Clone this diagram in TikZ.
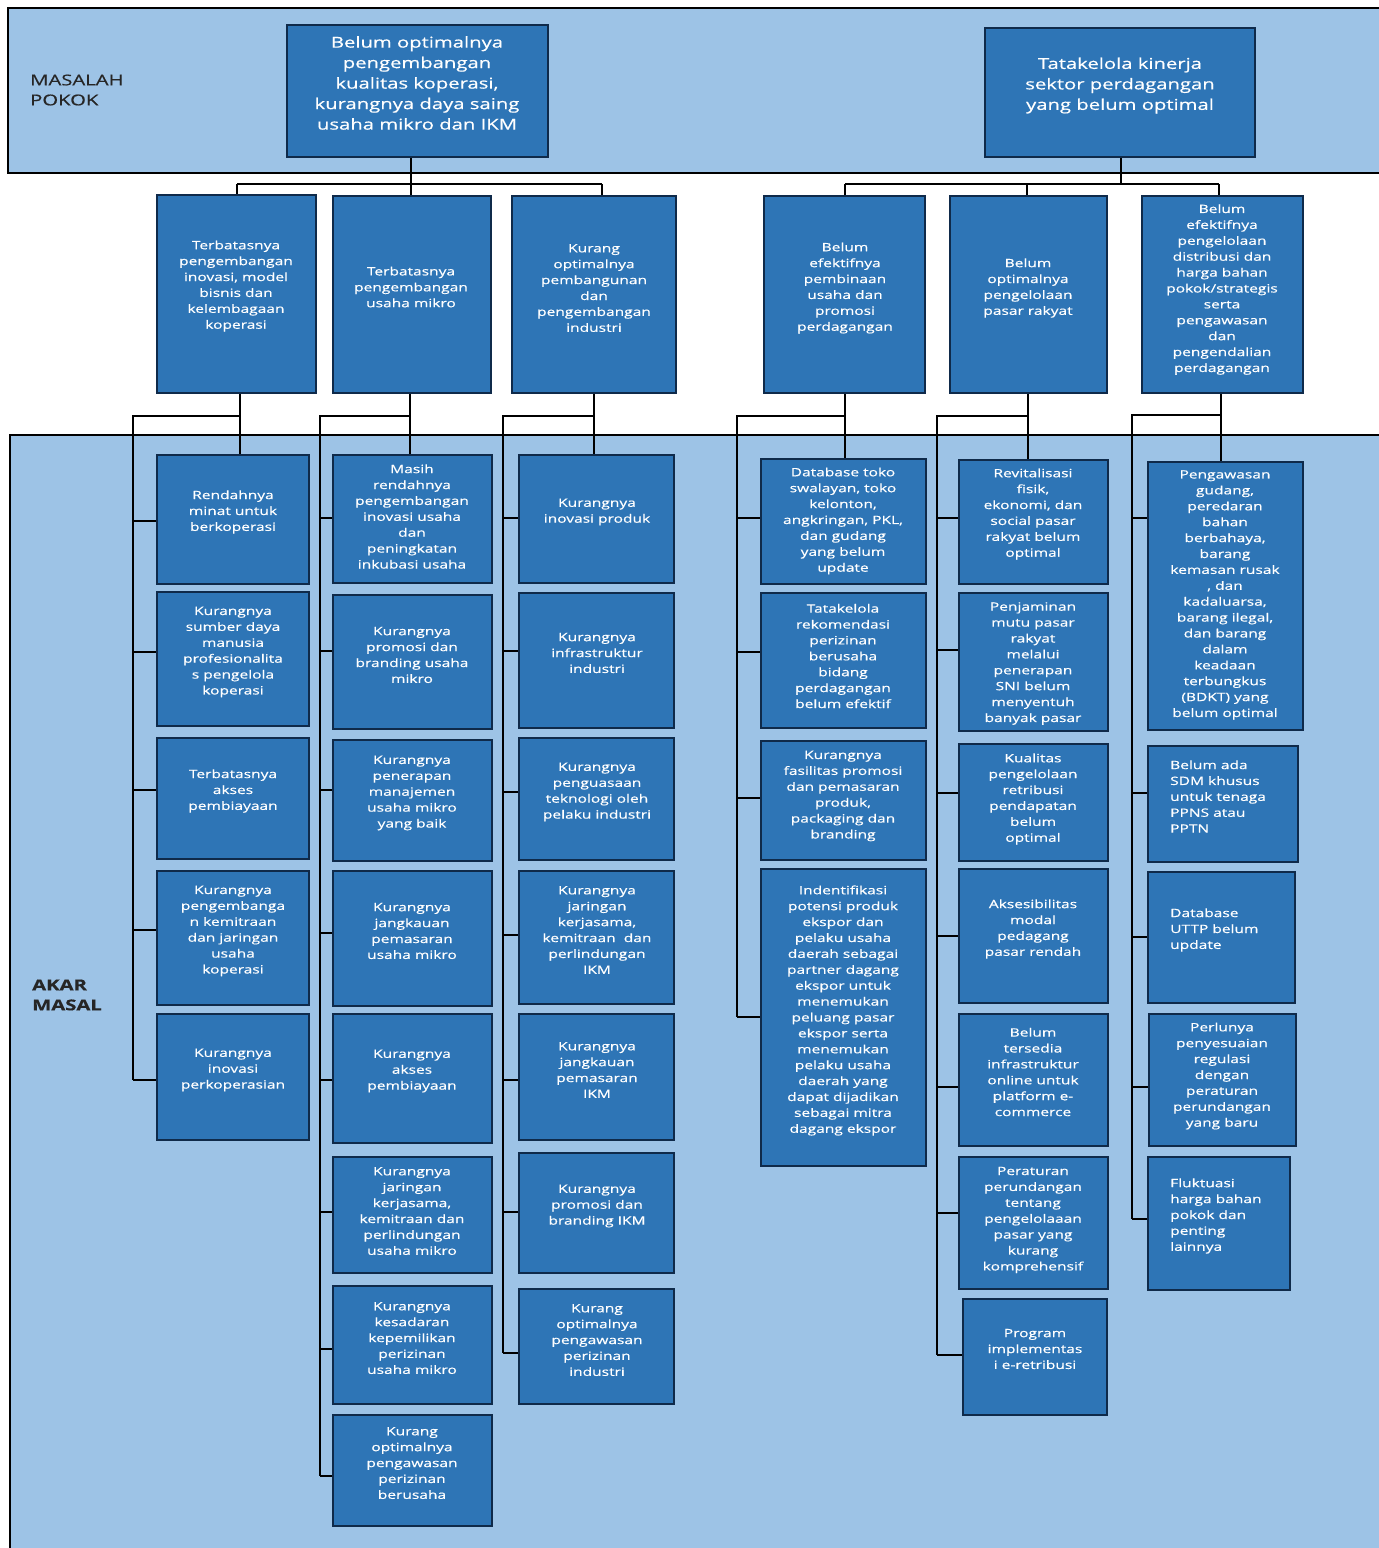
\documentclass[tikz,border=0pt]{standalone}
\usepackage{fontspec}
\setmainfont{Open Sans}
\newfontfamily\boxfont{Open Sans}[FakeStretch=1.35,FakeBold=0.5]
\definecolor{band}{HTML}{9DC3E6}
\definecolor{boxfill}{HTML}{2E75B6}
\definecolor{boxedge}{HTML}{0F2A4A}
\newcommand\bx[5]{\node[box, minimum width={(#4)-(#2)}, minimum height={(#5)-(#3)}] (#1) at ({((#2)+(#4))/2},{((#3)+(#5))/2}) {};}
\newcommand\tx[4]{\node[txt] (#1t) at (#2,#3) {#4};}
\newcommand\txl[4]{\node[txt, align=left, anchor=west] (#1t) at (#2,#3) {#4};}
\newcommand\stub[3]{\coordinate (tmp) at (#1,#2); \draw[conn] (tmp) -- (#3.west |- tmp);}
\begin{document}
\begin{tikzpicture}[x=1pt,y=-1pt,
 box/.style={draw=boxedge, fill=boxfill, line width=2.2pt, inner sep=0pt, rectangle},
 txt/.style={text=white, align=center, inner sep=0pt, font=\boxfont\fontsize{11.5}{15.9}\selectfont},
 bigtxt/.style={text=white, align=center, inner sep=0pt, font=\boxfont\fontsize{15}{20.5}\selectfont},
 lbl/.style={text=black!85, align=left, inner sep=0pt, anchor=west, font=\boxfont\fontsize{15}{20}\selectfont},
 conn/.style={draw=black, line width=2pt},
 bandst/.style={fill=band, draw=black, line width=1.8pt}]
\useasboundingbox (0,0) rectangle (1379,1548);
\clip (0,0) rectangle (1379,1548);
\fill[white] (0,0) rectangle (1379,1548);

% bands
\path[bandst] (8,8) rectangle (1395,173);
\path[bandst] (10,435) rectangle (1395,1565);
\node[lbl] (lmp) at (30,90) {MASALAH\\POKOK};
\node[lbl, font=\boxfont\bfseries\fontsize{15}{20}\selectfont] (lam) at (32,995) {AKAR\\MASAL};

% top boxes
\bx{T1}{287}{25}{548}{157}
\bx{T2}{985}{28}{1255}{157}
\node[bigtxt] (T1t) at (417,83) {Belum optimalnya\\pengembangan\\kualitas koperasi,\\kurangnya daya saing\\usaha mikro dan IKM};
\node[bigtxt] (T2t) at (1120,85.5) {Tatakelola kinerja\\sektor perdagangan\\yang belum optimal};

% level 2 connectors
\coordinate (h1l) at (237,184); \coordinate (h1m) at (411,184); \coordinate (h1r) at (602,184);
\coordinate (h2l) at (845,184); \coordinate (h2m) at (1027,184); \coordinate (h2r) at (1219,184);
\coordinate (h2c) at (1121,184);
\draw[conn] (T1.south -| h1m) -- (h1m);
\draw[conn] (h1l) -- (h1r);
\draw[conn] (T2.south -| h2c) -- (h2c);
\draw[conn] (h2l) -- (h2r);

% level 2 boxes
\bx{A}{157}{195}{316}{393}
\bx{B}{333}{196}{491}{393}
\bx{C}{512}{196}{676}{393}
\bx{D}{764}{196}{925}{393}
\bx{E}{950}{196}{1107}{393}
\bx{F}{1142}{196}{1303}{393}
\draw[conn] (h1l) -- (A.north -| h1l);
\draw[conn] (h1m) -- (B.north -| h1m);
\draw[conn] (h1r) -- (C.north -| h1r);
\draw[conn] (h2l) -- (D.north -| h2l);
\draw[conn] (h2m) -- (E.north -| h2m);
\draw[conn] (h2r) -- (F.north -| h2r);

\tx{A}{236}{286}{Terbatasnya\\pengembangan\\inovasi, model\\bisnis dan\\kelembagaan\\koperasi}
\tx{B}{411}{287}{Terbatasnya\\pengembangan\\usaha mikro}
\tx{C}{594}{288}{Kurang\\optimalnya\\pembangunan\\dan\\pengembangan\\industri}
\tx{D}{845}{288}{Belum\\efektifnya\\pembinaan\\usaha dan\\promosi\\perdagangan}
\tx{E}{1028}{288}{Belum\\optimalnya\\pengelolaan\\pasar rakyat}
\tx{F}{1222}{289.5}{Belum\\efektifnya\\pengelolaan\\distribusi dan\\harga bahan\\pokok/strategis\\serta\\pengawasan\\dan\\pengendalian\\perdagangan}

% level 3 boxes
\bx{A1}{157}{455}{309}{584}
\bx{A2}{157}{592}{309}{726}
\bx{A3}{157}{738}{309}{859}
\bx{A4}{157}{871}{309}{1005}
\bx{A5}{157}{1014}{309}{1140}

\bx{B1}{333}{455}{492}{583}
\bx{B2}{333}{595}{492}{729}
\bx{B3}{333}{740}{492}{861}
\bx{B4}{333}{871}{492}{1006}
\bx{B5}{333}{1014}{492}{1143}
\bx{B6}{333}{1157}{492}{1273}
\bx{B7}{333}{1286}{492}{1404}
\bx{B8}{333}{1415}{492}{1526}

\bx{C1}{519}{455}{674}{583}
\bx{C2}{519}{593}{674}{728}
\bx{C3}{519}{738}{674}{860}
\bx{C4}{519}{871}{674}{1004}
\bx{C5}{519}{1014}{674}{1140}
\bx{C6}{519}{1153}{674}{1273}
\bx{C7}{519}{1289}{674}{1404}

\bx{D1}{761}{459}{926}{584}
\bx{D2}{761}{593}{926}{728}
\bx{D3}{761}{741}{926}{860}
\bx{D4}{761}{869}{926}{1166}

\bx{E1}{959}{460}{1108}{584}
\bx{E2}{959}{593}{1108}{731}
\bx{E3}{959}{744}{1108}{861}
\bx{E4}{959}{869}{1108}{1003}
\bx{E5}{959}{1014}{1108}{1146}
\bx{E6}{959}{1157}{1108}{1289}
\bx{E7}{963}{1299}{1107}{1415}

\bx{F1}{1148}{462}{1303}{730}
\bx{F2}{1148}{746}{1298}{862}
\bx{F3}{1148}{872}{1295}{1003}
\bx{F4}{1149}{1014}{1296}{1146}
\bx{F5}{1148}{1157}{1290}{1290}

% level 3 connectors: stems, spines, stubs
\coordinate (xA) at (240,0); \coordinate (xB) at (410,0); \coordinate (xC) at (594,0);
\coordinate (xD) at (845,0); \coordinate (xE) at (1028,0); \coordinate (xF) at (1221,0);
\draw[conn] (A.south -| xA) -- (A1.north -| xA);
\draw[conn] (B.south -| xB) -- (B1.north -| xB);
\draw[conn] (C.south -| xC) -- (C1.north -| xC);
\draw[conn] (D.south -| xD) -- (D1.north -| xD);
\draw[conn] (E.south -| xE) -- (E1.north -| xE);
\draw[conn] (F.south -| xF) -- (F1.north -| xF);

\draw[conn] (240,416) -- (133,416) -- (133,1080);
\draw[conn] (410,416) -- (320,416) -- (320,1476);
\draw[conn] (594,416) -- (503,416) -- (503,1353);
\draw[conn] (845,416) -- (737,416) -- (737,1017);
\draw[conn] (1028,416) -- (937,416) -- (937,1355);
\draw[conn] (1221,415) -- (1132,415) -- (1132,1219);

\stub{133}{521}{A1} \stub{133}{652}{A2} \stub{133}{790}{A3} \stub{133}{930}{A4} \stub{133}{1080}{A5}
\stub{320}{518}{B1} \stub{320}{651}{B2} \stub{320}{790}{B3} \stub{320}{933}{B4} \stub{320}{1080}{B5} \stub{320}{1212}{B6} \stub{320}{1349}{B7} \stub{320}{1476}{B8}
\stub{503}{518}{C1} \stub{503}{651}{C2} \stub{503}{792}{C3} \stub{503}{935}{C4} \stub{503}{1080}{C5} \stub{503}{1212}{C6} \stub{503}{1353}{C7}
\stub{737}{518}{D1} \stub{737}{652}{D2} \stub{737}{798}{D3} \stub{737}{1017}{D4}
\stub{937}{518}{E1} \stub{937}{650}{E2} \stub{937}{793}{E3} \stub{937}{936}{E4} \stub{937}{1087}{E5} \stub{937}{1213}{E6} \stub{937}{1355}{E7}
\stub{1132}{518}{F1} \stub{1132}{793}{F2} \stub{1132}{937}{F3} \stub{1132}{1087}{F4} \stub{1132}{1219}{F5}

% level 3 texts
\tx{A1}{233}{512}{Rendahnya\\minat untuk\\berkoperasi}
\tx{A2}{233}{652}{Kurangnya\\sumber daya\\manusia\\profesionalita\\s pengelola\\koperasi}
\tx{A3}{233}{791}{Terbatasnya\\akses\\pembiayaan}
\tx{A4}{233}{931}{Kurangnya\\pengembanga\\n kemitraan\\dan jaringan\\usaha\\koperasi}
\tx{A5}{233}{1070}{Kurangnya\\inovasi\\perkoperasian}

\tx{B1}{412}{516.5}{Masih\\rendahnya\\pengembangan\\inovasi usaha\\dan\\peningkatan\\inkubasi usaha}
\tx{B2}{412}{655}{Kurangnya\\promosi dan\\branding usaha\\mikro}
\tx{B3}{412}{793}{Kurangnya\\penerapan\\manajemen\\usaha mikro\\yang baik}
\tx{B4}{412}{931}{Kurangnya\\jangkauan\\pemasaran\\usaha mikro}
\tx{B5}{412}{1071}{Kurangnya\\akses\\pembiayaan}
\tx{B6}{412}{1211}{Kurangnya\\jaringan\\kerjasama,\\kemitraan dan\\perlindungan\\usaha mikro}
\tx{B7}{412}{1338}{Kurangnya\\kesadaran\\kepemilikan\\perizinan\\usaha mikro}
\tx{B8}{412}{1463}{Kurang\\optimalnya\\pengawasan\\perizinan\\berusaha}

\tx{C1}{597}{512}{Kurangnya\\inovasi produk}
\tx{C2}{597}{653}{Kurangnya\\infrastruktur\\industri}
\tx{C3}{597}{792}{Kurangnya\\penguasaan\\teknologi oleh\\pelaku industri}
\tx{C4}{597}{930}{Kurangnya\\jaringan\\kerjasama,\\kemitraan~ dan\\perlindungan\\IKM}
\tx{C5}{597}{1070}{Kurangnya\\jangkauan\\pemasaran\\IKM}
\tx{C6}{597}{1206}{Kurangnya\\promosi dan\\branding IKM}
\tx{C7}{597}{1340}{Kurang\\optimalnya\\pengawasan\\perizinan\\industri}

\tx{D1}{843}{521}{Database toko\\swalayan, toko\\kelonton,\\angkringan, PKL,\\dan gudang\\yang belum\\update}
\tx{D2}{843}{656}{Tatakelola\\rekomendasi\\perizinan\\berusaha\\bidang\\perdagangan\\belum efektif}
\tx{D3}{843}{796}{Kurangnya\\fasilitas promosi\\dan pemasaran\\produk,\\packaging dan\\branding}
\tx{D4}{843}{1010.5}{Indentifikasi\\potensi produk\\ekspor dan\\pelaku usaha\\daerah sebagai\\partner dagang\\ekspor untuk\\menemukan\\peluang pasar\\ekspor serta\\menemukan\\pelaku usaha\\daerah yang\\dapat dijadikan\\sebagai mitra\\dagang ekspor}

\tx{E1}{1033}{514}{Revitalisasi\\fisik,\\ekonomi, dan\\social pasar\\rakyat belum\\optimal}
\tx{E2}{1033}{663.5}{Penjaminan\\mutu pasar\\rakyat\\melalui\\penerapan\\SNI belum\\menyentuh\\banyak pasar}
\tx{E3}{1033}{799}{Kualitas\\pengelolaan\\retribusi\\pendapatan\\belum\\optimal}
\tx{E4}{1033}{929}{Aksesibilitas\\modal\\pedagang\\pasar rendah}
\tx{E5}{1033}{1072}{Belum\\tersedia\\infrastruktur\\online untuk\\platform e-\\commerce}
\tx{E6}{1033}{1220}{Peraturan\\perundangan\\tentang\\pengelolaaan\\pasar yang\\kurang\\komprehensif}
\tx{E7}{1035}{1349}{Program\\implementas\\i e-retribusi}

\tx{F1}{1225}{595}{Pengawasan\\gudang,\\peredaran\\bahan\\berbahaya,\\barang\\kemasan rusak\\, dan\\kadaluarsa,\\barang ilegal,\\dan barang\\dalam\\keadaan\\terbungkus\\(BDKT) yang\\belum optimal}
\txl{F2}{1170}{796.5}{Belum ada\\SDM khusus\\untuk tenaga\\PPNS atau\\PPTN}
\txl{F3}{1170}{930}{Database\\UTTP belum\\update}
\tx{F4}{1222}{1076}{Perlunya\\penyesuaian\\regulasi\\dengan\\peraturan\\perundangan\\yang baru}
\txl{F5}{1170}{1216}{Fluktuasi\\harga bahan\\pokok dan\\penting\\lainnya}
\end{tikzpicture}
\end{document}
